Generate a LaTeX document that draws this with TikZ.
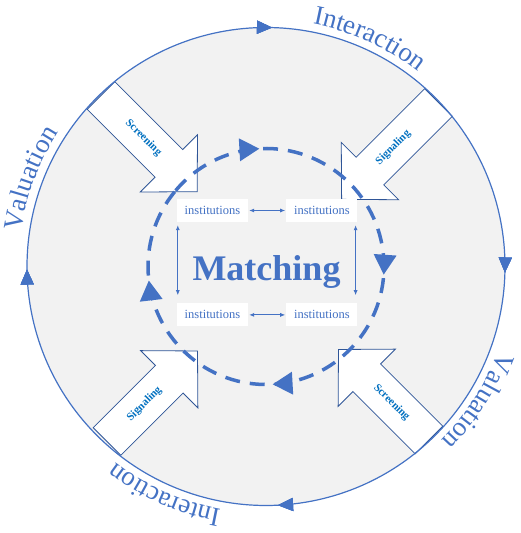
\documentclass[tikz,border=0pt]{standalone}
\usepackage{fontspec}
\setmainfont{Liberation Serif}
\usepackage{tikz}
\usetikzlibrary{arrows.meta}
\usetikzlibrary{calc}
\usetikzlibrary{decorations.markings,decorations.text}
\usetikzlibrary{positioning}

\definecolor{ringblue}{HTML}{4472C4}
\definecolor{edgeblue}{HTML}{2F5597}
\definecolor{lblblue}{HTML}{0070C0}
\definecolor{discgray}{HTML}{F2F2F2}
\newcommand{\rimfont}{\fontsize{27}{27}\selectfont\color{ringblue}}

\begin{document}
\begin{tikzpicture}[x=1pt,y=1pt,
		rim/.style={draw=ringblue, line width=1.2pt},
		rimtip/.style={decoration={markings, mark=at position #1 with {\arrow{Triangle[length=15pt,width=13pt]}}}, postaction={decorate}},
		dashring/.style={draw=ringblue, line width=3.5pt, dash pattern=on 15pt off 10pt},
		blockarrow/.style={draw=edgeblue, line width=0.8pt, fill=white},
		arrowlbl/.style={text=lblblue, font=\bfseries\fontsize{11}{11}\selectfont, inner sep=0pt},
		inst/.style={fill=white, text=ringblue, font=\fontsize{12.5}{12.5}\selectfont, minimum width=71pt, minimum height=23pt, inner sep=1pt},
		biarrow/.style={draw=ringblue, line width=0.8pt, {Latex[length=5pt,width=4pt]}-{Latex[length=5pt,width=4pt]}}]
	\useasboundingbox (0,0) rectangle (520,533);
	\coordinate (c) at (266,266.5);
	\fill[discgray] (c) circle [radius=239];
	\foreach \nm/\tx/\ty/\ang/\len/\pos/\lbl/\trot in {scrTL/101/437.5/-45/136/60/Screening/-45, sigTR/438.5/430.5/225/137/64/Signaling/45, sigBL/107/91.5/45/128/53/Signaling/45, scrBR/429/93/135/128/53/Screening/-45}
	{
		\begin{scope}[shift={(\tx,\ty)}, rotate=\ang]
			\draw[blockarrow] (0,-19.5) -- (\len-40,-19.5) -- (\len-40,-40.5) -- (\len,0) -- (\len-40,40.5) -- (\len-40,19.5) -- (0,19.5) -- cycle;
			\node[arrowlbl, rotate=\trot] (\nm) at (\pos,0) {\lbl};
		\end{scope}
	}
	\draw[rim, rimtip=0.129, rimtip=0.367, rimtip=0.623, rimtip=0.879]
		($(c)+(45:239)$) arc [start angle=45, end angle=-315, radius=239];
	\draw[dashring, postaction={decorate, solid}, decoration={markings,
			mark=at position 0.13 with {\arrow{Triangle[length=20pt,width=22pt]}},
			mark=at position 0.40 with {\arrow{Triangle[length=20pt,width=22pt]}},
			mark=at position 0.63 with {\arrow{Triangle[length=20pt,width=22pt]}},
			mark=at position 0.87 with {\arrow{Triangle[length=20pt,width=22pt]}}}]
		($(c)+(140:118)$) arc [start angle=140, end angle=-220, radius=118];
	\path[decorate, decoration={text along path, text align=center, text={|\rimfont|Interaction}}]
		($(c)+(105.5:247)$) arc [start angle=105.5, end angle=25.5, radius=247];
	\path[decorate, decoration={text along path, text align=center, text={|\rimfont|Valuation}}]
		($(c)+(199.5:247)$) arc [start angle=199.5, end angle=119.5, radius=247];
	\path[decorate, decoration={text along path, text align=center, text={|\rimfont|Valuation}}]
		($(c)+(7.5:247)$) arc [start angle=7.5, end angle=-72.5, radius=247];
	\path[decorate, decoration={text along path, text align=center, text={|\rimfont|Interaction}}]
		($(c)+(-74:247)$) arc [start angle=-74, end angle=-154, radius=247];
	\node[inst] (itl) at (212.5,322.5) {institutions};
	\node[inst, right=38pt of itl] (itr) {institutions};
	\node[inst, below=81pt of itl] (ibl) {institutions};
	\node[inst, right=38pt of ibl] (ibr) {institutions};
	\node[text=ringblue, font=\bfseries\fontsize{36}{36}\selectfont] (match) at (266.5,261.5) {Matching};
	\draw[biarrow, shorten <=1pt, shorten >=1pt] (itl) -- (itr);
	\draw[biarrow, shorten <=1pt, shorten >=1pt] (ibl) -- (ibr);
	\draw[biarrow, shorten <=3pt, shorten >=8pt] ([xshift=1pt]itl.south west) -- ([xshift=1pt]ibl.north west);
	\draw[biarrow, shorten <=3pt, shorten >=8pt] ([xshift=-2pt]itr.south east) -- ([xshift=-2pt]ibr.north east);
\end{tikzpicture}
\end{document}
